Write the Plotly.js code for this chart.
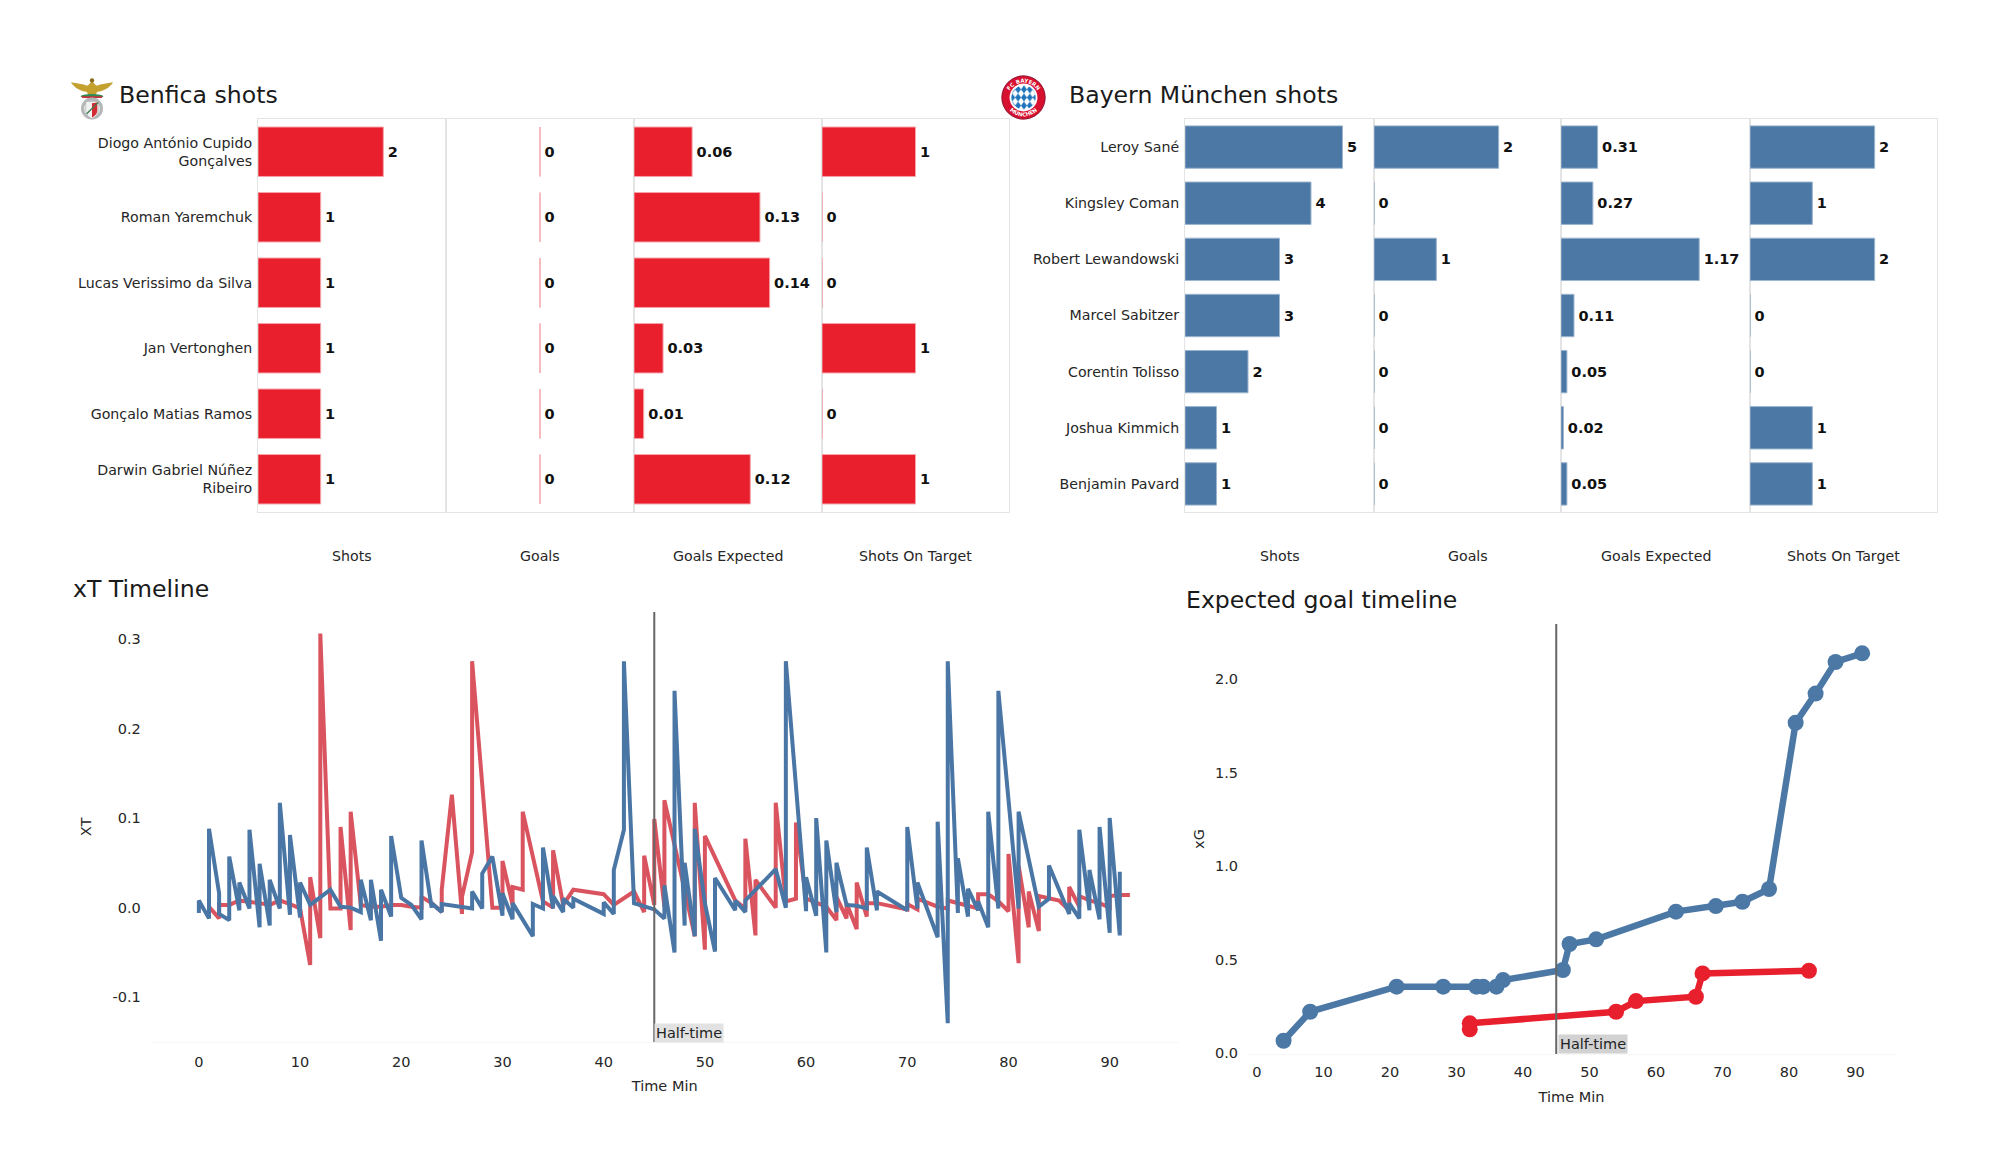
<!DOCTYPE html>
<html><head><meta charset="utf-8">
<script src="https://cdn.plot.ly/plotly-3.0.1.min.js"></script>
<style>html,body{margin:0;padding:0;background:#fff}#c{width:2000px;height:1175px}</style>
</head><body><div id="c"></div>
<script>
const benficaPlayers=["Diogo António Cupido<br>Gonçalves","Roman Yaremchuk","Lucas Verissimo da Silva","Jan Vertonghen","Gonçalo Matias Ramos","Darwin Gabriel Núñez<br>Ribeiro"];
const benficaShots=[2,1,1,1,1,1];
const benficaGoals=[0,0,0,0,0,0];
const benficaXG=[0.06,0.13,0.14,0.03,0.01,0.12];
const benficaSOT=[1,0,0,1,0,1];
const bayernPlayers=["Leroy Sané","Kingsley Coman","Robert Lewandowski","Marcel Sabitzer","Corentin Tolisso","Joshua Kimmich","Benjamin Pavard"];
const bayernShots=[5,4,3,3,2,1,1];
const bayernGoals=[2,0,1,0,0,0,0];
const bayernXG=[0.31,0.27,1.17,0.11,0.05,0.02,0.05];
const bayernSOT=[2,1,2,0,0,1,1];
const facetNames=["Shots","Goals","Goals Expected","Shots On Target"];

const xtRedMin=[1,2,2,3,4,5,6,7,8,9,10,11,11,12,12,13,14,14,15,15,16,17,18,19,20,21,22,22,23,24,24,25,26,26,27,27,29,30,30,31,31,32,32,34,35,35,36,37,40,41,43,44,44,45,45,46,46,48,49,49,50,50,53,54,54,55,55,57,57,58,59,59,60,62,63,63,64,64,65,65,66,66,67,70,70,71,71,73,74,74,75,76,77,77,78,79,80,80,81,81,82,82,83,83,84,85,86,86,87,87,88,89,90,90,91,92];
const xtRedVal=[0.001,-0.012,0.003,0.003,0.008,0.007,0.005,0.003,0.008,0.004,-0.001,-0.064,0.034,-0.034,0.306,-0.001,-0.001,0.090,-0.025,0.107,0.003,0.001,0.001,0.003,0.003,0.001,0,0.012,0.005,-0.005,0.020,0.126,-0.007,0.012,0.062,0.275,0,0,0.052,0.003,0.023,0.020,0.107,0.007,0,0.064,0.003,0.020,0.015,0.003,0.018,-0.005,0.058,0.003,0.099,0.001,0.120,0.020,-0.032,0.117,-0.047,0.080,0.008,-0.001,0.077,-0.031,0.031,0,0.117,0.007,0.010,0.095,0.010,0.001,-0.014,0.012,-0.012,0.005,-0.024,0.028,-0.010,0.005,0.005,-0.002,0.004,-0.002,0.010,0.001,-0.001,0.008,0.005,0.001,-0.001,0.015,0.015,0.007,-0.004,0.060,-0.062,0.047,-0.022,0.018,-0.026,0.013,0.010,0.008,-0.003,0.023,0.001,0.013,0.008,0.005,0,0.013,0.014,0.014];
const xtBlueMin=[0,0,1,1,2,2,3,3,4,4,5,5,6,6,7,7,8,8,9,9,10,10,11,13,14,15,16,16,17,17,18,18,19,19,20,21,22,22,23,23,24,24,27,27,28,28,29,30,30,31,31,33,33,34,34,35,35,36,36,37,37,40,40,41,41,42,42,43,45,46,46,47,47,48,48,49,49,50,51,51,53,53,54,54,57,58,58,60,60,61,61,62,62,63,63,64,65,66,66,67,67,70,70,71,71,73,73,74,74,75,75,76,76,77,77,78,78,79,79,81,81,83,84,84,86,86,87,87,88,88,89,89,90,90,91,91];
const xtBlueVal=[-0.006,0.008,-0.012,0.088,0.016,-0.007,-0.014,0.057,-0.003,0.028,-0.001,0.087,-0.022,0.049,-0.020,0.031,-0.001,0.117,-0.008,0.081,-0.011,0.028,0.003,0.020,0.001,0,-0.005,0.031,-0.014,0.031,-0.037,0.020,-0.010,0.080,0.011,0.003,-0.013,0.075,0,0.005,-0.005,0.004,-0.001,0.018,-0.001,0.038,0.057,-0.009,0.016,-0.013,0.005,-0.032,0.004,-0.001,0.067,-0.001,0.013,-0.005,0.010,0,0.010,-0.007,0.006,-0.007,0.042,0.087,0.275,0.005,-0.002,-0.012,0.025,-0.050,0.242,-0.020,0.050,-0.032,0.088,0.005,-0.049,0.033,-0.003,0.008,-0.005,0.008,0.043,0,0.275,-0.004,0.034,-0.009,0.100,-0.050,0.075,-0.005,0.050,0.003,0.002,-0.001,0.067,-0.003,0.018,-0.003,0.090,-0.001,0.028,-0.033,0.096,-0.129,0.275,-0.006,0.055,-0.010,0.021,-0.003,0.007,-0.022,0.107,-0.001,0.242,-0.001,0.107,0.001,0.010,0.047,-0.007,0.005,-0.012,0.087,-0.003,0.042,-0.013,0.090,-0.028,0.100,-0.031,0.040];
const xgBlueMin=[4,8,21,28,33,34,36,37,46,47,51,63,69,73,77,81,84,87,91];
const xgBlueVal=[0.066,0.221,0.355,0.355,0.355,0.355,0.355,0.39,0.444,0.583,0.608,0.756,0.786,0.809,0.877,1.766,1.922,2.091,2.137];
const xgRedMin=[32,32,54,57,66,67,83];
const xgRedVal=[0.127,0.159,0.221,0.278,0.301,0.426,0.44];

const RED="#ea1f2d",BLUE="#4c78a6",W=2000,H=1175;
const font="DejaVu Sans, sans-serif",GRID="#e4e4e4",INK="#262626";
const xd=(a,b)=>[a/W,b/W], yd=(t,b)=>[1-b/H,1-t/H];
const traces=[],layout={width:W,height:H,margin:{l:0,r:0,t:0,b:0},paper_bgcolor:"#fff",plot_bgcolor:"#fff",showlegend:false,font:{family:font,color:INK,size:14},shapes:[],annotations:[],images:[]};

function panelGroup(start,players,cols,color,edge,ranges,edges){
  cols.forEach((vals,i)=>{
    const n=start+i,xn="x"+n,yn="y"+n;
    traces.push({type:"bar",orientation:"h",x:vals,y:players,xaxis:xn,yaxis:yn,width:0.755,
      marker:{color:color,line:{color:edge,width:1}},text:vals.map(v=>"\u200a"+v),textposition:"outside",cliponaxis:false,
      textfont:{family:font,size:14.5,color:"#111",weight:"bold"},hoverinfo:"skip"});
    layout["xaxis"+n]={domain:xd(edges[i],edges[i+1]),range:ranges[i],anchor:yn,showgrid:false,zeroline:false,showticklabels:false,ticks:"",showline:true,mirror:true,linecolor:GRID,linewidth:1,fixedrange:true};
    layout["yaxis"+n]={domain:yd(119,512),type:"category",categoryorder:"array",categoryarray:players,range:[players.length-0.5,-0.5],anchor:xn,showgrid:false,zeroline:false,ticks:i==0?"outside":"",ticklen:2,tickcolor:"rgba(0,0,0,0)",showticklabels:i==0,tickfont:{size:14.2,color:INK},showline:true,mirror:true,linecolor:GRID,linewidth:1,fixedrange:true};
    layout.annotations.push({text:facetNames[i],xref:"paper",yref:"paper",x:(edges[i]+edges[i+1])/2/W,y:1-556/H,xanchor:"center",yanchor:"middle",showarrow:false,font:{size:14.2,color:INK}});
  });
}
panelGroup(1,benficaPlayers,[benficaShots,benficaGoals,benficaXG,benficaSOT],RED,"#f4a3a8",[[0,3],[-1,1],[0,0.194],[0,2]],[258,446,634,822,1009]);
panelGroup(5,bayernPlayers,[bayernShots,bayernGoals,bayernXG,bayernSOT],BLUE,"#9db6cf",[[0,6],[0,3],[0,1.6],[0,3]],[1185,1374,1561,1750,1937]);

function addTitle(t,xpx,ypx){layout.annotations.push({text:t,xref:"paper",yref:"paper",x:xpx/W,y:1-ypx/H,xanchor:"left",yanchor:"middle",showarrow:false,font:{size:23.6,color:"#1a1a1a"}});}
addTitle("Benfica shots",117,95);addTitle("Bayern München shots",1067,95);addTitle("xT Timeline",71,589);addTitle("Expected goal timeline",1184,600);

// xT timeline
traces.push({type:"scatter",mode:"lines",x:xtRedMin,y:xtRedVal,xaxis:"x9",yaxis:"y9",line:{color:"#d9545f",width:4},hoverinfo:"skip"});
traces.push({type:"scatter",mode:"lines",x:xtBlueMin,y:xtBlueVal,xaxis:"x9",yaxis:"y9",line:{color:"#4a76a5",width:4},hoverinfo:"skip"});
// xG timeline
traces.push({type:"scatter",mode:"lines+markers",x:xgBlueMin,y:xgBlueVal,xaxis:"x10",yaxis:"y10",line:{color:BLUE,width:6.5},marker:{color:BLUE,size:16},hoverinfo:"skip"});
traces.push({type:"scatter",mode:"lines+markers",x:xgRedMin,y:xgRedVal,xaxis:"x10",yaxis:"y10",line:{color:"#e8202e",width:6.5},marker:{color:"#e8202e",size:16},hoverinfo:"skip"});

function timeAxes(n,dx,dy,rx,ry,yt,ytf,ylab,xtl,xstand,ystand,ytl){
  layout["xaxis"+n]={domain:dx,range:rx,anchor:"y"+n,tickmode:"array",tickvals:[0,10,20,30,40,50,60,70,80,90],ticktext:["0","10","20","30","40","50","60","70","80","90"],showgrid:false,zeroline:false,ticks:"outside",ticklen:xtl,tickcolor:"rgba(0,0,0,0)",tickfont:{size:14.5,color:INK},showline:true,linecolor:"#f7f7f7",linewidth:1,title:{text:"Time Min",font:{size:14.5,color:INK},standoff:xstand},fixedrange:true};
  layout["yaxis"+n]={domain:dy,range:ry,anchor:"x"+n,tickmode:"array",tickvals:yt,ticktext:ytf,showgrid:false,zeroline:false,ticks:"outside",ticklen:ytl,tickcolor:"rgba(0,0,0,0)",tickfont:{size:14.5,color:INK},showline:false,title:{text:ylab,font:{size:14.5,color:INK},standoff:ystand},fixedrange:true};
  layout.shapes.push({type:"line",xref:"x"+n,yref:"y"+n+" domain",x0:45,x1:45,y0:0,y1:1,line:{color:"#666",width:2},layer:"above"});
}
timeAxes(9,xd(150.7,1178.7),yd(612,1042),[-4.76,96.82],[-0.15,0.33],[-0.1,0,0.1,0.2,0.3],["-0.1","0.0","0.1","0.2","0.3"],"XT",7,11,17,6);
timeAxes(10,xd(1248,1895),yd(624,1054),[-1.35,95.94],[-0.005,2.294],[0,0.5,1,1.5,2],["0.0","0.5","1.0","1.5","2.0"],"xG",4.5,12,6.5,6);

function halfLabel(xa,ya,x,yfrac,bg,shx,shy){layout.annotations.push({text:"Half-time",xref:xa,yref:ya+" domain",x:x,y:yfrac,xanchor:"left",yanchor:"bottom",xshift:shx,yshift:shy,showarrow:false,font:{size:14.5,color:"#222"},bgcolor:bg,borderpad:1});}
halfLabel("x9","y9",45,0,"#e2e2e2",0,-1);
halfLabel("x10","y10",45,0,"#d2d2d2",2,0);

const bayernLogo=`<svg xmlns="http://www.w3.org/2000/svg" viewBox="0 0 100 100"><defs><path id="a" d="M15 52A35 35 0 0 1 85 52"/><path id="b" d="M8 50A42 42 0 0 0 92 50"/><pattern id="p" width="13" height="18" patternUnits="userSpaceOnUse" x="5.5" y="5"><rect width="13" height="18" fill="#fff"/><path d="M6.5 0L13 9 6.5 18 0 9z" fill="#1f74bb"/></pattern></defs><circle cx="50" cy="50" r="49" fill="#d8102f"/><circle cx="50" cy="50" r="48" fill="none" stroke="#6a2440" stroke-width="1.5"/><circle cx="50" cy="50" r="31" fill="#fff"/><circle cx="50" cy="50" r="27" fill="url(#p)"/><g font-family="DejaVu Sans" font-weight="bold" font-size="12" fill="#fff" text-anchor="middle"><text><textPath href="#a" startOffset="50%">FC BAYERN</textPath></text><text><textPath href="#b" startOffset="50%">MÜNCHEN</textPath></text></g></svg>`;
const benficaLogo=`<svg xmlns="http://www.w3.org/2000/svg" viewBox="0 0 100 100"><path d="M2 14c14 2 26 4 38 8l10-10 10 10c12-4 24-6 38-8-8 12-20 20-36 22l-4 8h-16l-4-8C22 34 10 26 2 14z" fill="#c4a02e"/><circle cx="50" cy="10" r="5" fill="#8a6d1c"/><ellipse cx="50" cy="46" rx="26" ry="5" fill="#2e8a55"/><path d="M26 46h48l-2 4H28z" fill="#c8323a"/><circle cx="50" cy="74" r="25" fill="#b4b8b8"/><circle cx="50" cy="74" r="18" fill="#e6e8e8"/><path d="M36 58h28v20c0 10-8 16-14 20-6-4-14-10-14-20z" fill="#f2f2f2" stroke="#999"/><path d="M50 62l12-2v18c0 8-6 13-12 17z" fill="#d42a33"/><path d="M38 86L64 60" stroke="#3a7d4c" stroke-width="3"/></svg>`;
const uri=s=>"data:image/svg+xml;charset=utf-8,"+encodeURIComponent(s);
layout.images.push({source:uri(benficaLogo),xref:"paper",yref:"paper",x:70/W,y:1-76/H,sizex:44/W,sizey:44/H,xanchor:"left",yanchor:"top",sizing:"stretch",layer:"above"});
layout.images.push({source:uri(bayernLogo),xref:"paper",yref:"paper",x:1001/W,y:1-75/H,sizex:45/W,sizey:45/H,xanchor:"left",yanchor:"top",sizing:"stretch",layer:"above"});

Plotly.newPlot("c",traces,layout,{displayModeBar:false,staticPlot:true});
</script></body></html>
